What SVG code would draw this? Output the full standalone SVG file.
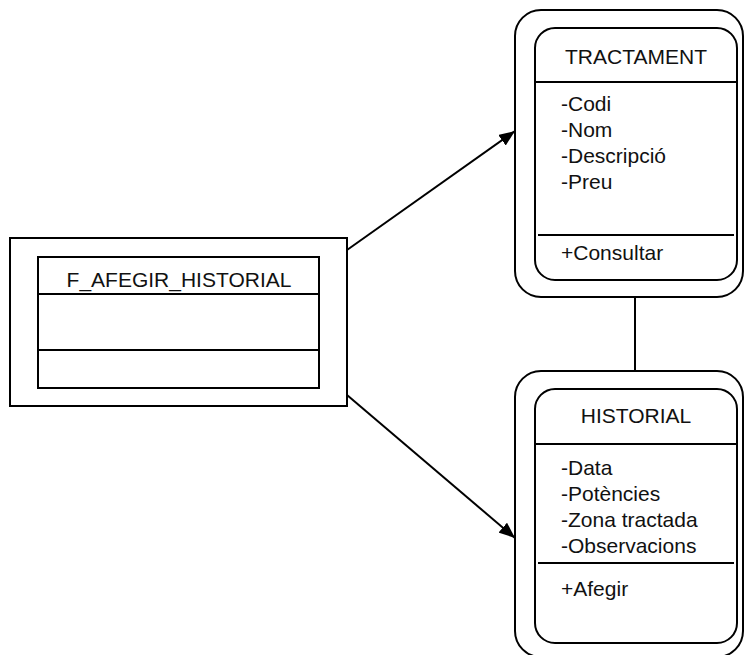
<svg xmlns="http://www.w3.org/2000/svg" width="744" height="655" viewBox="0 0 744 655">
  <style>
    .box { fill: #ffffff; stroke: #000000; stroke-width: 2; }
    .sep { stroke: #000000; stroke-width: 2; fill: none; }
    .lbl { font-family: "Liberation Sans", Arial, sans-serif; font-size: 21px; fill: #111111; }
    .mid { text-anchor: middle; }
    .conn { stroke: #000000; stroke-width: 2; fill: none; }
  </style>
  <defs>
    <marker id="arrow" markerWidth="17" markerHeight="13" refX="16" refY="6.5" orient="auto" markerUnits="userSpaceOnUse" viewBox="0 0 17 13">
      <path d="M0,0 L16,6.5 L0,13 Z" fill="#000000"/>
    </marker>
  </defs>
  <rect width="744" height="655" fill="#ffffff"/>

  <g id="connectors">
    <line class="conn" x1="347" y1="250" x2="515" y2="131" marker-end="url(#arrow)"/>
    <line class="conn" x1="347" y1="395" x2="515" y2="538" marker-end="url(#arrow)"/>
    <line class="conn" x1="635" y1="297" x2="635" y2="371"/>
  </g>

  <g id="f_afegir_historial">
    <rect class="box" x="10" y="238" width="337" height="168"/>
    <rect class="box" x="38" y="257" width="281" height="131"/>
    <line class="sep" x1="38" y1="294" x2="319" y2="294"/>
    <line class="sep" x1="38" y1="350" x2="319" y2="350"/>
    <text class="lbl mid" x="179" y="287">F_AFEGIR_HISTORIAL</text>
  </g>

  <g id="tractament">
    <rect class="box" x="515" y="10" width="228" height="287" rx="26" ry="26"/>
    <rect class="box" x="535" y="28" width="202" height="252" rx="20" ry="20"/>
    <line class="sep" x1="535" y1="82" x2="737" y2="82"/>
    <line class="sep" x1="538" y1="235" x2="734" y2="235"/>
    <text class="lbl mid" x="636" y="64">TRACTAMENT</text>
    <text class="lbl" x="561" y="111">-Codi</text>
    <text class="lbl" x="561" y="137">-Nom</text>
    <text class="lbl" x="561" y="163">-Descripció</text>
    <text class="lbl" x="561" y="189">-Preu</text>
    <text class="lbl" x="561" y="260">+Consultar</text>
  </g>

  <g id="historial">
    <rect class="box" x="515" y="371" width="228" height="286" rx="26" ry="26"/>
    <rect class="box" x="535" y="389" width="202" height="254" rx="20" ry="20"/>
    <line class="sep" x1="535" y1="444" x2="737" y2="444"/>
    <line class="sep" x1="538" y1="563" x2="734" y2="563"/>
    <text class="lbl mid" x="636" y="423">HISTORIAL</text>
    <text class="lbl" x="561" y="475">-Data</text>
    <text class="lbl" x="561" y="501">-Potències</text>
    <text class="lbl" x="561" y="527">-Zona tractada</text>
    <text class="lbl" x="561" y="553">-Observacions</text>
    <text class="lbl" x="561" y="596">+Afegir</text>
  </g>
</svg>
